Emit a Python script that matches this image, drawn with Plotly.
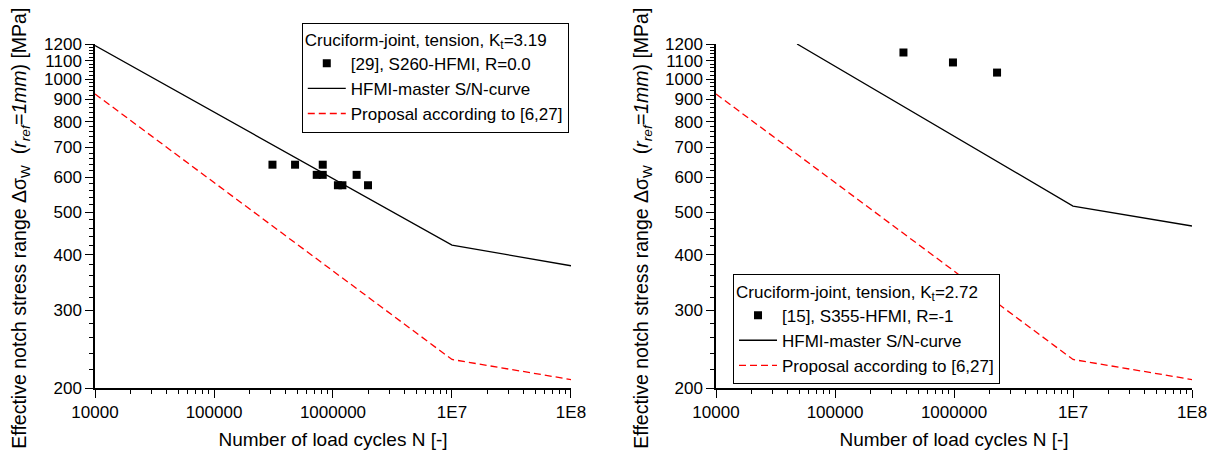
import plotly.graph_objects as go
from plotly.subplots import make_subplots

# ---- data -------------------------------------------------------------
# left panel: cruciform joint, Kt = 3.19, S260-HFMI, R = 0.0
left_test_n = [3.1e5, 4.8e5, 7.3e5, 8.2e5, 8.2e5, 1.1e6, 1.2e6, 1.58e6, 1.97e6]
left_test_s = [640, 640, 607, 607, 640, 575, 575, 607, 575]
left_master_n = [1e4, 1e7, 1e8]
left_master_s = [1190, 421, 378]

# right panel: cruciform joint, Kt = 2.72, S355-HFMI, R = -1
right_test_n = [3.76e5, 9.8e5, 2.3e6]
right_test_s = [1148, 1090, 1034]
right_master_n = [4.8e4, 1e7, 1e8]
right_master_s = [1200, 516, 465]

# proposal curve (same in both panels)
proposal_n = [1e4, 1e7, 1e8]
proposal_s = [925, 232, 209]

x_tickvals = [1e4, 1e5, 1e6, 1e7, 1e8]
x_ticktext = ["10000", "100000", "1000000", "1E7", "1E8"]
y_tickvals = [200, 300, 400, 500, 600, 700, 800, 900, 1000, 1100, 1200]
x_minor = [m * 10 ** e for e in range(4, 8) for m in range(2, 10)]
y_minor = list(range(200, 1201, 20))

legend_titles = ["Cruciform-joint, tension, K<sub>t</sub>=3.19",
                 "Cruciform-joint, tension, K<sub>t</sub>=2.72"]
test_labels = ["[29], S260-HFMI, R=0.0", "[15], S355-HFMI, R=-1"]

FONT = "Liberation Sans, Arial, sans-serif"

y_title = ("Effective notch stress range \u0394\u03c3<sub>W</sub>\u00a0 "
           "(<i>r<sub>ref</sub>=1mm</i>) [MPa]")

fig = make_subplots(rows=1, cols=2, horizontal_spacing=0.1322)

panels = [
    (left_test_n, left_test_s, left_master_n, left_master_s, "legend"),
    (right_test_n, right_test_s, right_master_n, right_master_s, "legend2"),
]

for i, (tn, ts, mn, ms, leg) in enumerate(panels):
    col = i + 1
    fig.add_trace(go.Scatter(
        x=tn, y=ts, mode="markers", name=test_labels[i], legend=leg,
        marker=dict(symbol="square", size=8, color="black"),
    ), row=1, col=col)
    fig.add_trace(go.Scatter(
        x=mn, y=ms, mode="lines", name="HFMI-master S/N-curve", legend=leg,
        line=dict(color="black", width=1.3),
    ), row=1, col=col)
    fig.add_trace(go.Scatter(
        x=proposal_n, y=proposal_s, mode="lines",
        name="Proposal according to [6,27]", legend=leg,
        line=dict(color="#ff0000", width=1.3, dash="7px,4px"),
    ), row=1, col=col)

axis_common = dict(
    showline=True, linecolor="black", linewidth=1.5, mirror=False,
    ticks="outside", ticklen=8, tickwidth=1.3, tickcolor="black",
    showgrid=False, zeroline=False,
    tickfont=dict(family=FONT, size=17, color="black"),
)

for col in (1, 2):
    fig.update_xaxes(
        type="log", range=[4, 8],
        tickvals=x_tickvals, ticktext=x_ticktext,
        minor=dict(tickvals=x_minor, ticks="outside", ticklen=4,
                   tickcolor="black", tickwidth=1),
        title=dict(text="Number of load cycles N [-]",
                   font=dict(family=FONT, size=19, color="black"),
                   standoff=12),
        row=1, col=col, **axis_common,
    )
    fig.update_yaxes(
        type="log", range=[2.30103, 3.07918],
        tickvals=y_tickvals, ticktext=[str(v) for v in y_tickvals],
        minor=dict(tickvals=y_minor, ticks="outside", ticklen=4,
                   tickcolor="black", tickwidth=1),
        row=1, col=col, **axis_common,
    )

# rotated y-axis titles, placed as paper annotations
for xpos in (-0.0675, 0.4995):
    fig.add_annotation(
        text=y_title, xref="paper", yref="paper", x=xpos, y=0.466,
        xanchor="center", yanchor="middle", textangle=-90, showarrow=False,
        font=dict(family=FONT, size=19.5, color="black"),
    )

legend_common = dict(
    xanchor="left", yanchor="top", bgcolor="white",
    bordercolor="black", borderwidth=1,
    font=dict(family=FONT, size=17, color="black"),
    tracegroupgap=0, itemwidth=38,
)

fig.update_layout(
    width=1219, height=459,
    margin=dict(l=95, r=27, t=44, b=65),
    paper_bgcolor="white", plot_bgcolor="white",
    font=dict(family=FONT, color="black"),
    legend=dict(x=0.1885, y=1.062,
                title=dict(text=legend_titles[0],
                           font=dict(family=FONT, size=17, color="black")),
                **legend_common),
    legend2=dict(x=0.5816, y=0.33,
                 title=dict(text=legend_titles[1],
                            font=dict(family=FONT, size=17, color="black")),
                 **legend_common),
)

fig.write_html("out.html")
